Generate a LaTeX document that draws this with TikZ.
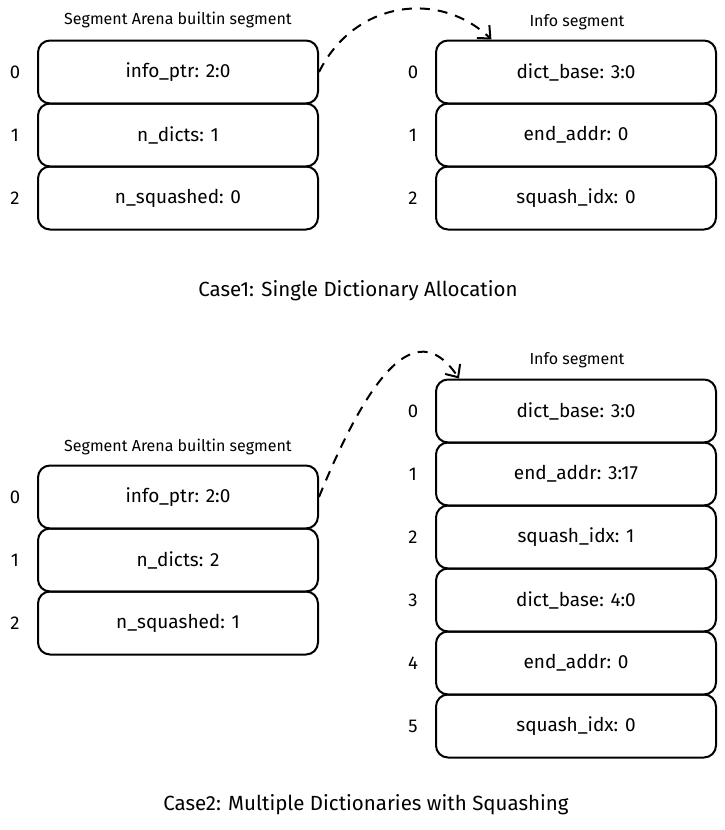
\documentclass[tikz,border=0pt]{standalone}
\usepackage{fontspec}
\setmainfont{Fira Sans}
\usetikzlibrary{arrows.meta,calc}

\begin{document}
\begin{tikzpicture}[x=1pt,y=-1pt,
  cell/.style={draw, line width=2pt, rounded corners=12pt, minimum width=280pt, minimum height=63pt, font=\fontsize{19}{21}\selectfont},
  idx/.style={font=\fontsize{18.5}{21}\selectfont},
  head/.style={font=\fontsize{16}{18}\selectfont},
  caption/.style={font=\fontsize{20.5}{23}\selectfont},
  link/.style={line width=2pt, dash pattern=on 10pt off 8pt, -{Straight Barb[length=10pt,width=18pt,line width=2pt]}}]
\useasboundingbox (0,0) rectangle (725,830);

% case 1
\node[head] (ta) at (178,20) {Segment Arena builtin segment};
\node[cell] (a0) at (178,72) {info\_ptr: 2:0};
\node[cell] (a1) at (178,135) {n\_dicts: 1};
\node[cell] (a2) at (178,198) {n\_squashed: 0};
\node[idx] (na0) at (15,72) {0};
\node[idx] (na1) at (15,135) {1};
\node[idx] (na2) at (15,198) {2};

\node[head] (ti) at (577,22) {Info segment};
\node[cell] (i0) at (576,72) {dict\_base: 3:0};
\node[cell] (i1) at (576,135) {end\_addr: 0};
\node[cell] (i2) at (576,198) {squash\_idx: 0};
\node[idx] (ni0) at (413,72) {0};
\node[idx] (ni1) at (413,135) {1};
\node[idx] (ni2) at (413,198) {2};

\draw[link] (a0.east) .. controls (355,0) and (440,-10) .. ($(i0.north west)!0.2!(i0.north east)$);

\node[caption] (c1) at (358,291) {Case1: Single Dictionary Allocation};

% case 2
\node[head] (tb) at (178,447) {Segment Arena builtin segment};
\node[cell] (b0) at (178,497) {info\_ptr: 2:0};
\node[cell] (b1) at (178,560) {n\_dicts: 2};
\node[cell] (b2) at (178,623) {n\_squashed: 1};
\node[idx] (nb0) at (15,497) {0};
\node[idx] (nb1) at (15,560) {1};
\node[idx] (nb2) at (15,623) {2};

\node[head] (tj) at (577,360) {Info segment};
\node[cell] (j0) at (576,411) {dict\_base: 3:0};
\node[cell] (j1) at (576,474) {end\_addr: 3:17};
\node[cell] (j2) at (576,537) {squash\_idx: 1};
\node[cell] (j3) at (576,600) {dict\_base: 4:0};
\node[cell] (j4) at (576,663) {end\_addr: 0};
\node[cell] (j5) at (576,726) {squash\_idx: 0};
\node[idx] (nj0) at (413,411) {0};
\node[idx] (nj1) at (413,474) {1};
\node[idx] (nj2) at (413,537) {2};
\node[idx] (nj3) at (413,600) {3};
\node[idx] (nj4) at (413,663) {4};
\node[idx] (nj5) at (413,726) {5};

\draw[link] (b0.east) .. controls (375,360) and (420,320) .. ($(j0.north west)!0.085!(j0.north east)$);

\node[caption] (c2) at (366,805) {Case2: Multiple Dictionaries with Squashing};
\end{tikzpicture}
\end{document}
